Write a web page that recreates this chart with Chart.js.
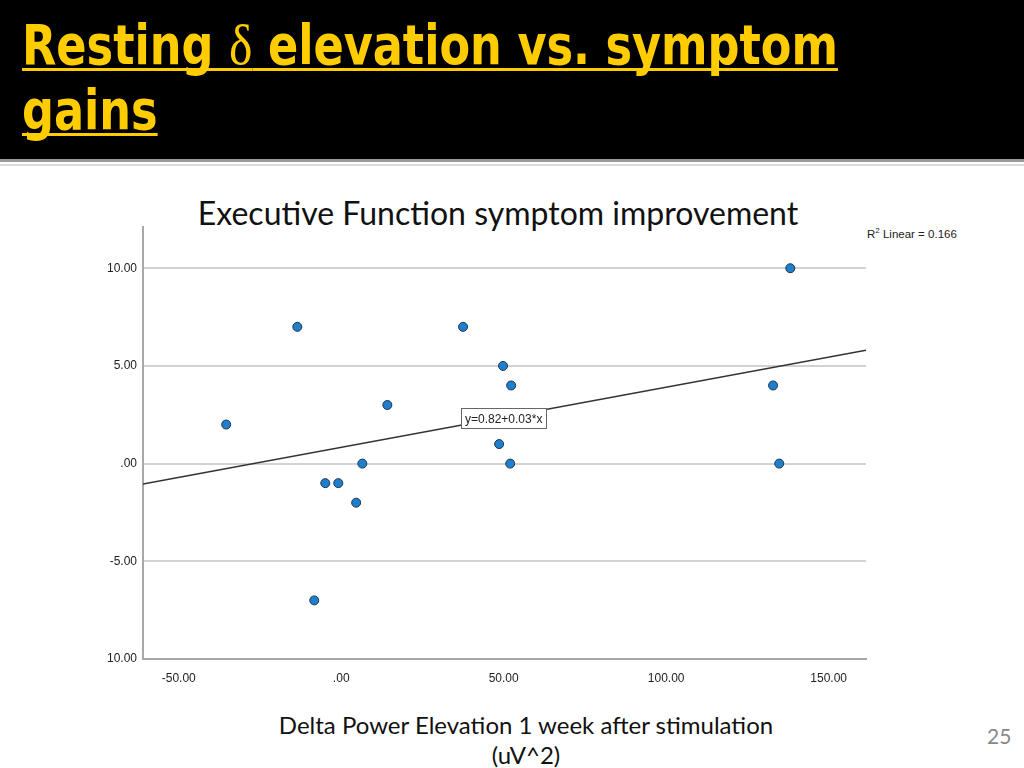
<!DOCTYPE html>
<html>
<head>
<meta charset="utf-8">
<script src="https://cdn.jsdelivr.net/npm/chart.js@4.4.1/dist/chart.umd.min.js"></script>
<style>
  body { margin: 0; width: 1024px; height: 768px; background: #fff; position: relative; overflow: hidden; font-family: Lato, "Open Sans", sans-serif; }
  #band { position: absolute; left: 0; top: 0; width: 1024px; height: 159px; background: #000; border-bottom: 3px solid #9a9a9a; }
  #band2 { position: absolute; left: 0; top: 164px; width: 1024px; height: 2px; background: #dcdcdc; }
  .tl { position: absolute; left: 22px; font-family: "DejaVu Sans Condensed", "Liberation Sans Narrow", sans-serif; font-weight: bold; font-size: 56px; line-height: 65px; color: #FFCC00; white-space: nowrap; transform-origin: 0 0; text-decoration: underline; text-decoration-thickness: 3px; text-underline-offset: 4px; text-decoration-skip-ink: none; }
  .tl .d { font-family: "Liberation Serif", serif; font-weight: normal; }
  #chartTitle { position: absolute; left: 0; width: 996px; text-align: center; top: 193px; font-size: 32px; color: #111; }
  #r2 { position: absolute; left: 867px; top: 226px; font-family: "Liberation Sans", Arial, sans-serif; font-size: 11.5px; color: #222; }
  #r2 sup { font-size: 8px; }
  #xTitle { position: absolute; left: 226px; width: 600px; text-align: center; top: 710px; font-size: 24px; line-height: 30px; color: #111; }
  #pageNum { position: absolute; left: 987px; top: 723px; font-size: 21px; color: #888; }
  #wrap { position: absolute; left: 90px; top: 214px; width: 800px; height: 476px; }
</style>
</head>
<body>
<div id="band"></div>
<div id="band2"></div>
<div class="tl" id="line1" style="top:12px">Resting <span class="d">δ</span> elevation vs. symptom</div>
<div class="tl" id="line2" style="top:77px">gains</div>
<div id="chartTitle">Executive Function symptom improvement</div>
<div id="r2">R<sup>2</sup> Linear = 0.166</div>
<div id="wrap"><canvas id="scatter"></canvas></div>
<div id="xTitle">Delta Power Elevation 1 week after stimulation<br>(uV^2)</div>
<div id="pageNum">25</div>
<script>
// squeeze the slide title to the width it has on the slide
const line1 = document.getElementById('line1');
const squeeze = 'scaleX(' + (816 / line1.getBoundingClientRect().width) + ')';
line1.style.transform = squeeze;
document.getElementById('line2').style.transform = squeeze;

// delta power elevation (x) and symptom improvement (y)
const deltaPower = [-35.4, -13.5, -8.3, -4.9, -0.9, 4.6, 6.5, 14.2, 37.5, 48.6, 49.8, 52.0, 52.3, 132.9, 134.8, 138.2];
const improvement = [2, 7, -7, -1, -1, -2, 0, 3, 7, 1, 5, 0, 4, 4, 0, 10];

// fit line ends at the plot edges
const fitX = [-61, 161.5];
const fitY = [-1.05, 5.8];

const xTickValues = [-50, 0, 50, 100, 150];
const xTickLabels = ['-50.00', '.00', '50.00', '100.00', '150.00'];
const yTickValues = [10, 5, 0, -5, -10];
const yTickLabels = ['10.00', '5.00', '.00', '-5.00', '10.00'];

const fitLabel = 'y=0.82+0.03*x';
const fitLabelAt = { x: 50, y: 2.32 };

const pts = deltaPower.map((v, i) => ({ x: v, y: improvement[i] }));
const fitPts = fitX.map((v, i) => ({ x: v, y: fitY[i] }));

const fitBox = {
    id: 'fitBox',
    afterDatasetsDraw(chart) {
        const ctx = chart.ctx;
        const px = chart.scales.x.getPixelForValue(fitLabelAt.x);
        const py = chart.scales.y.getPixelForValue(fitLabelAt.y);
        ctx.save();
        ctx.font = '12px "Liberation Sans", Arial, sans-serif';
        const w = Math.round(ctx.measureText(fitLabel).width + 8);
        const h = 20;
        const bx = Math.round(px - w / 2), by = Math.round(py - h / 2);
        ctx.fillStyle = '#fff';
        ctx.fillRect(bx, by, w, h);
        ctx.strokeStyle = '#666';
        ctx.lineWidth = 1;
        ctx.strokeRect(bx + 0.5, by + 0.5, w, h);
        ctx.fillStyle = '#222';
        ctx.textAlign = 'center';
        ctx.textBaseline = 'middle';
        ctx.fillText(fitLabel, px, py + 1);
        ctx.restore();
    }
};

const scatterConfig = {
    type: 'scatter',
    data: {
        datasets: [
            {
                label: 'Fit',
                type: 'line',
                data: fitPts,
                borderColor: '#333',
                borderWidth: 1.5,
                pointRadius: 0,
                fill: false,
            },
            {
                label: 'Subjects',
                data: pts,
                backgroundColor: '#1f7fcc',
                borderColor: '#1b3550',
                borderWidth: 1,
                pointRadius: 4.5,
            },
        ],
    },
    options: {
        responsive: true,
        maintainAspectRatio: false,
        animation: false,
        layout: { padding: { top: 1, right: 24, left: 0, bottom: 0 } },
        plugins: { legend: { display: false }, tooltip: { enabled: false } },
        scales: {
            x: {
                type: 'linear',
                min: -61,
                max: 161.5,
                afterBuildTicks: s => { s.ticks = xTickValues.map(v => ({ value: v })); },
                afterFit: s => { s.height = 31; },
                grid: { display: false },
                border: { display: true, color: '#a8a8a8', width: 2 },
                ticks: {
                    color: '#222',
                    font: { family: '"Liberation Sans", Arial, sans-serif', size: 12 },
                    padding: 4,
                    maxRotation: 0,
                    callback: (v) => xTickLabels[xTickValues.indexOf(v)],
                },
            },
            y: {
                type: 'linear',
                min: -10,
                max: 12.1,
                afterBuildTicks: s => { s.ticks = yTickValues.map(v => ({ value: v })); },
                afterFit: s => { s.width = 53; },
                grid: { color: '#d2d2d2', lineWidth: 2, drawTicks: false },
                border: { display: true, color: '#a8a8a8', width: 2 },
                ticks: {
                    color: '#222',
                    font: { family: '"Liberation Sans", Arial, sans-serif', size: 12 },
                    padding: 6,
                    callback: (v) => yTickLabels[yTickValues.indexOf(v)],
                },
            },
        },
    },
    plugins: [fitBox],
};

const scatterCtx = document.getElementById('scatter');
window.myScatter = new Chart(scatterCtx, scatterConfig);
</script>
</body>
</html>
